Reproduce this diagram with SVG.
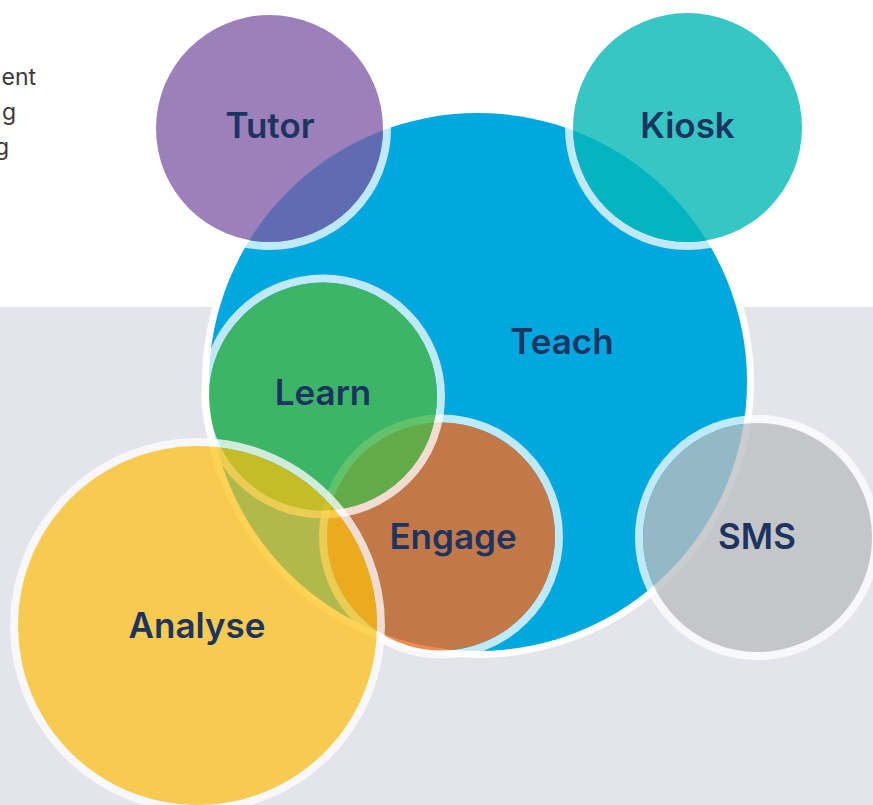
<svg xmlns="http://www.w3.org/2000/svg" width="873" height="805" viewBox="0 0 873 805">
<style>
.lbl{font-family:Inter,"Noto Sans","Liberation Sans",sans-serif;font-weight:600;font-size:35px;fill:#1d3461;text-anchor:middle}
.ring{fill:none;stroke:#ffffff;stroke-opacity:0.75;stroke-width:8}
.side{font-family:Inter,"Noto Sans","Liberation Sans",sans-serif;font-size:23px;fill:#3a3a3a;text-anchor:end}
</style>
<rect x="0" y="0" width="873" height="805" fill="#ffffff"/>
<rect x="0" y="307" width="873" height="498" fill="#e4e4ec"/>
<g id="side-text">
<text class="side" x="36" y="85">ent</text>
<text class="side" x="16" y="120">g</text>
<text class="side" x="9" y="155">g</text>
</g>
<g id="connectors"/>
<g id="teach">
<circle cx="478" cy="382" r="272.5" fill="none" stroke="#ffffff" stroke-width="7"/>
<circle cx="478" cy="382" r="269" fill="#00a8e0"/>
<text class="lbl" x="562" y="354">Teach</text>
</g>
<g id="tutor">
<circle class="ring" cx="269.5" cy="128.5" r="117.5"/>
<circle cx="269.5" cy="128.5" r="113.5" fill="#7c59a6" fill-opacity="0.765"/>
<text class="lbl" x="270" y="138">Tutor</text>
</g>
<g id="kiosk">
<circle class="ring" cx="687.5" cy="127.5" r="118.5"/>
<circle cx="687.5" cy="127.5" r="114.5" fill="#04b8b5" fill-opacity="0.8"/>
<text class="lbl" x="687.5" y="138">Kiosk</text>
</g>
<g id="sms">
<circle class="ring" cx="757.5" cy="537.5" r="118.5"/>
<circle cx="757.5" cy="537.5" r="114.5" fill="#bcbec0" fill-opacity="0.78"/>
<text class="lbl" x="757" y="549">SMS</text>
</g>
<g id="engage">
<circle class="ring" cx="441" cy="536.5" r="118"/>
<circle cx="441" cy="536.5" r="114" fill="#f26c21" fill-opacity="0.8"/>
<text class="lbl" x="453" y="549">Engage</text>
</g>
<g id="learn">
<circle class="ring" cx="323" cy="396.5" r="118"/>
<circle cx="323" cy="396.5" r="114" fill="#4bb848" fill-opacity="0.8"/>
<text class="lbl" x="323" y="405">Learn</text>
</g>
<g id="analyse">
<circle class="ring" cx="197.5" cy="625.5" r="183.5"/>
<circle cx="197.5" cy="625.5" r="179.5" fill="#fec10d" fill-opacity="0.7"/>
<text class="lbl" x="197" y="638">Analyse</text>
</g>
</svg>
